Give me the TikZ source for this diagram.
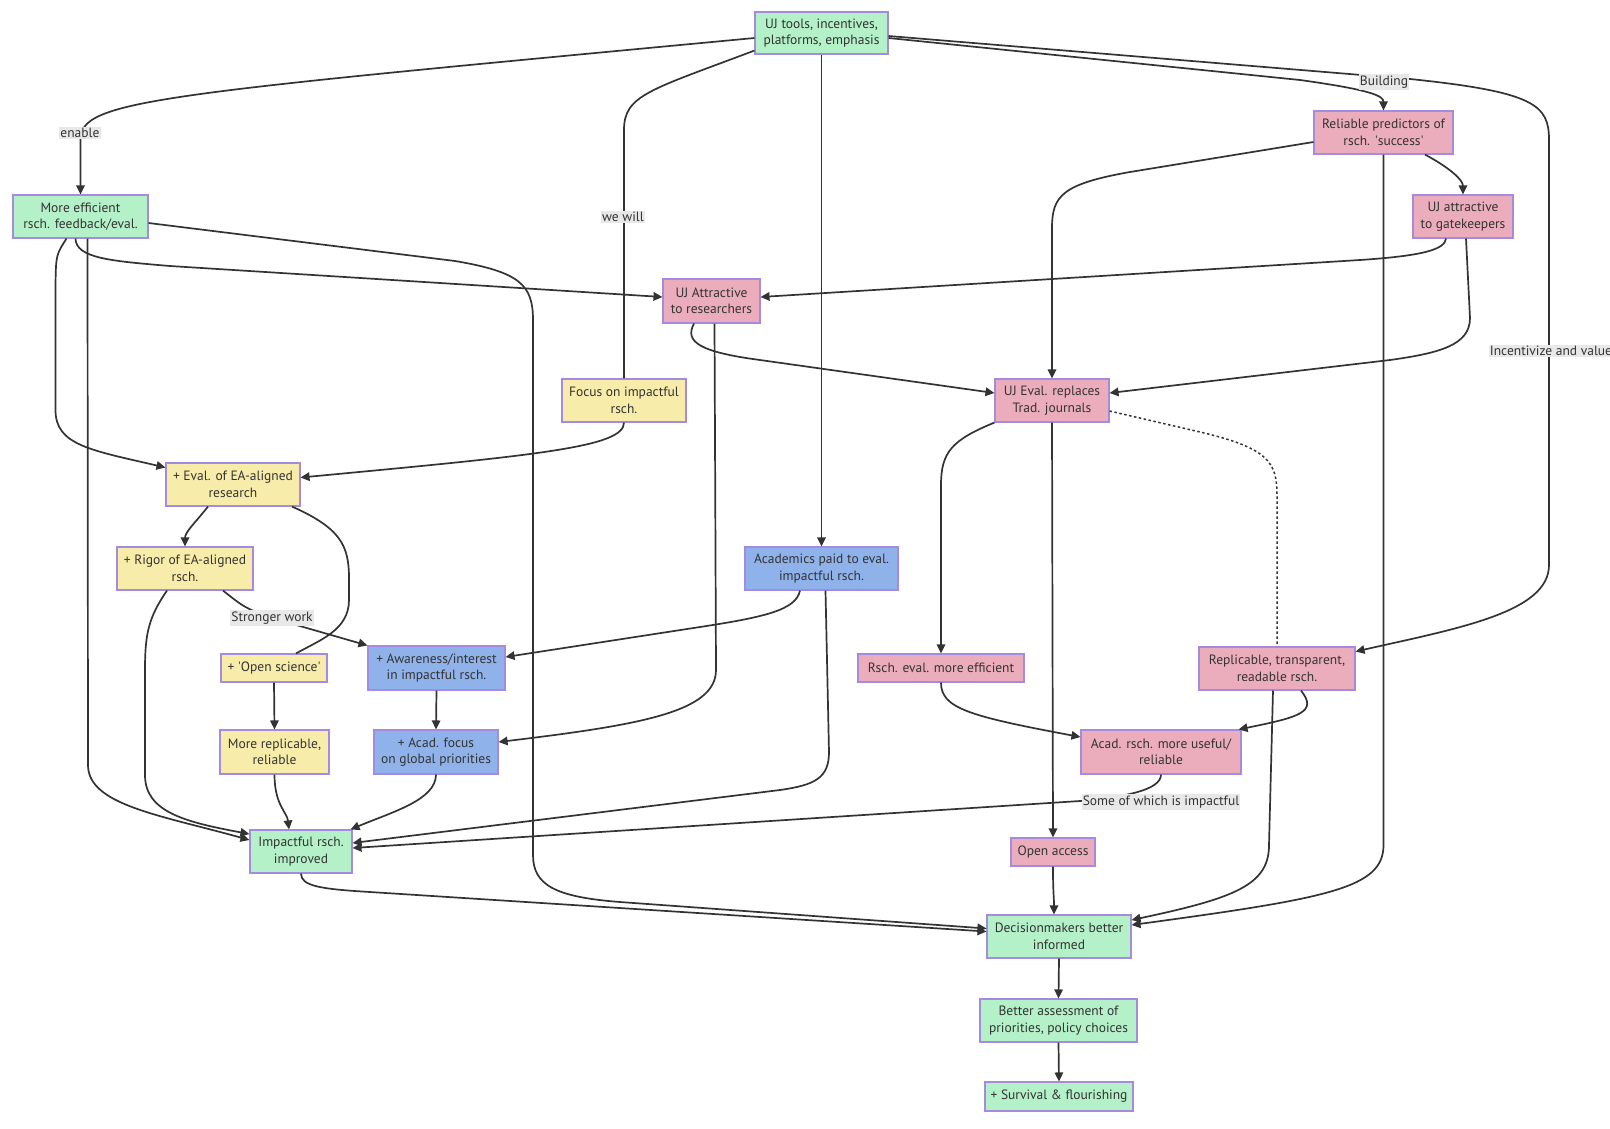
\documentclass[tikz,border=0pt]{standalone}
\usepackage{fontspec}
\setmainfont{PT Sans}
\usetikzlibrary{arrows.meta}
\definecolor{gfill}{HTML}{B4F0C8}
\definecolor{yfill}{HTML}{F8ECAA}
\definecolor{pfill}{HTML}{EBADBB}
\definecolor{bfill}{HTML}{8FB2EA}
\definecolor{bord}{HTML}{A58BE0}
\definecolor{ln}{HTML}{333333}
\definecolor{txt}{HTML}{333333}
\definecolor{lblbg}{HTML}{E8E8E8}
\tikzset{
  nd/.style={draw=bord, line width=1.1pt, align=center, inner sep=0pt, text=txt,
    font=\fontsize{13.5}{16.5}\selectfont},
  gn/.style={nd, fill=gfill},
  yn/.style={nd, fill=yfill},
  pn/.style={nd, fill=pfill},
  bn/.style={nd, fill=bfill},
  e/.style={draw=ln, line width=1.7pt, -{Triangle[length=9pt,width=8.5pt]}},
  en/.style={draw=ln, line width=1.7pt},
  ed/.style={draw=ln, line width=1.5pt, dash pattern=on 2.5pt off 2.5pt},
  lbl/.style={fill=lblbg, text=txt, inner xsep=1pt, inner ysep=1.5pt,
    font=\fontsize{13.5}{16.5}\selectfont}
}
\begin{document}
\begin{tikzpicture}[x=1pt,y=-1pt]
\path[use as bounding box, fill=white] (0,0) rectangle (1610,1128);

% nodes
\node[gn, minimum width=133pt, minimum height=42pt] (A) at (821.5,33) {UJ tools, incentives,\\platforms, emphasis};
\node[gn, minimum width=135pt, minimum height=43pt] (ME) at (80.5,216.5) {More efficient\\rsch. feedback/eval.};
\node[pn, minimum width=97pt, minimum height=44pt] (UA) at (711.5,301) {UJ Attractive\\to researchers};
\node[yn, minimum width=124pt, minimum height=43pt] (FO) at (624,400.5) {Focus on impactful\\rsch.};
\node[yn, minimum width=134pt, minimum height=43pt] (EV) at (233,484.5) {+ Eval. of EA-aligned\\research};
\node[pn, minimum width=139pt, minimum height=43pt] (RP) at (1383.5,132.5) {Reliable predictors of\\rsch. \textquotesingle success\textquotesingle};
\node[pn, minimum width=100pt, minimum height=43pt] (GK) at (1463,216.5) {UJ attractive\\to gatekeepers};
\node[pn, minimum width=114pt, minimum height=43pt] (UE) at (1052,400.5) {UJ Eval. replaces\\Trad. journals};
\node[bn, minimum width=153pt, minimum height=43pt] (AP) at (821.5,568.5) {Academics paid to eval.\\impactful rsch.};
\node[yn, minimum width=136pt, minimum height=43pt] (RG) at (185,568.5) {+ Rigor of EA-aligned\\rsch.};
\node[yn, minimum width=106pt, minimum height=28pt] (OS) at (274,668) {+ \textquotesingle Open science\textquotesingle};
\node[bn, minimum width=137pt, minimum height=44pt] (AW) at (436.5,668) {+ Awareness/interest\\in impactful rsch.};
\node[yn, minimum width=109pt, minimum height=44pt] (MR) at (274.5,752) {More replicable,\\reliable};
\node[bn, minimum width=124pt, minimum height=44pt] (AF) at (436,752) {+ Acad. focus\\on global priorities};
\node[gn, minimum width=102pt, minimum height=43pt] (IM) at (301,851.5) {Impactful rsch.\\improved};
\node[pn, minimum width=166pt, minimum height=28pt] (RE) at (941,668) {Rsch. eval. more efficient};
\node[pn, minimum width=156pt, minimum height=43pt] (RT) at (1277,668.5) {Replicable, transparent,\\readable rsch.};
\node[pn, minimum width=160pt, minimum height=44pt] (AR) at (1161,752) {Acad. rsch. more useful/\\reliable};
\node[pn, minimum width=84pt, minimum height=28pt] (OA) at (1053,852) {Open access};
\node[gn, minimum width=144pt, minimum height=43pt] (DM) at (1059,936.5) {Decisionmakers better\\informed};
\node[gn, minimum width=157pt, minimum height=43pt] (BA) at (1058.5,1020.5) {Better assessment of\\priorities, policy choices};
\node[gn, minimum width=148pt, minimum height=29pt] (SV) at (1059,1096.5) {+ Survival \& flourishing};

% edges
\draw[e] ([yshift=-5pt]A.west) .. controls (150,95) and (80.5,100) .. (80.5,140) -- (ME.north);
\draw[en] ([yshift=4pt]A.south west) .. controls (650,90) and (624,95) .. (624,130) -- (FO.north);
\draw[e] (FO.south) .. controls (624,447) and (540,455) .. ([yshift=7pt]EV.east);
\draw[e] ([xshift=-14pt]ME.south) .. controls (56,255) .. (55.5,285) -- (55.5,410) .. controls (55.5,445) and (90,450) .. ([yshift=17pt]EV.west);
\draw[e] ([xshift=7pt]ME.south) -- (88,765) .. controls (88,805) and (160,815) .. ([yshift=11.5pt]IM.west);
\draw[e] ([xshift=-5pt]ME.south) .. controls (76,258) and (110,261) .. (170,266) -- ([yshift=4pt]UA.west);
\draw[e] ([yshift=-6.5pt]ME.east) -- (455,261) .. controls (520,272) and (533,285) .. (533,320) -- (533,855) .. controls (533,885) and (555,897) .. (620,902) -- ([yshift=8pt]DM.west);
\draw[e] (IM.south) .. controls (301,886) and (320,889) .. (370,892) -- ([yshift=5pt]DM.west);
\draw[e] (A.south) -- (AP.north);
\draw[e] ([yshift=-5pt]A.east) -- (1300,80) .. controls (1372,90) and (1383.5,96) .. (RP.north);
\draw[e] ([yshift=-3pt]A.east) -- (1410,79) .. controls (1535,92) and (1549,105) .. (1549,140) -- (1549,565) .. controls (1549,612) and (1460,628) .. ([yshift=17pt]RT.east);
\draw[e] ([yshift=-9.5pt]RP.west) -- (1130,172) .. controls (1062,184) and (1052,196) .. (1052,228) -- (UE.north);
\draw[e] ([xshift=41.5pt]RP.south) .. controls (1450,168) and (1463,180) .. (GK.north);
\draw[e] (RP.south) -- (1383.5,845) .. controls (1383.5,888) and (1330,898) .. ([yshift=11.5pt]DM.east);
\draw[e] ([xshift=-17pt]GK.south) .. controls (1445,250) and (1420,256) .. (1360,260) -- ([yshift=4pt]UA.east);
\draw[e] ([xshift=3pt]GK.south) -- (1470,318) .. controls (1470,345) and (1440,353) .. (1390,360) -- ([yshift=7.5pt]UE.east);
\draw[e] ([xshift=-17.5pt]UA.south) .. controls (684,342) and (700,352) .. (760,360) -- ([yshift=7.5pt]UE.west);
\draw[e] ([xshift=3pt]UA.south) -- (716,670) .. controls (716,712) and (640,725) .. ([yshift=10pt]AF.east);
\draw[e] (UE.south west) .. controls (952,440) and (941,452) .. (941,485) -- (RE.north);
\draw[e] (UE.south) -- (OA.north);
\draw[ed] ([yshift=-10.5pt]UE.east) -- (1200,432) .. controls (1268,448) and (1277,462) .. (1277,495) -- (RT.north);
\draw[e] ([xshift=-21.5pt]AP.south) .. controls (796,610) and (765,617) .. (700,627) -- ([yshift=11pt]AW.east);
\draw[e] ([xshift=4pt]AP.south) -- (829,752) .. controls (829,778) and (815,785) .. (780,790) -- ([yshift=8.5pt]IM.east);
\draw[e] (AR.south) .. controls (1161,790) and (1125,797) .. (1080,801) -- ([yshift=3.5pt]IM.east);
\draw[e] (RE.south) .. controls (941,708) and (968,716) .. ([yshift=15pt]AR.west);
\draw[e] ([xshift=24pt]RT.south) .. controls (1318,712) and (1300,717) .. ([xshift=-3pt]AR.north east);
\draw[e] ([xshift=-4pt]RT.south) -- (1269,845) .. controls (1269,885) and (1235,898) .. ([yshift=16.5pt]DM.east);
\draw[e] (OA.south) .. controls (1053,895) and (1054,895) .. ([xshift=-5pt]DM.north);
\draw[e] (DM.south) -- (BA.north);
\draw[e] (BA.south) -- (SV.north);
\draw[e] ([xshift=-25pt]EV.south) .. controls (195,523) and (185,532) .. (RG.north);
\draw[en] ([xshift=59pt]EV.south) .. controls (340,528) and (349,545) .. (349,578) -- (349,600) .. controls (349,630) and (320,640) .. ([xshift=22pt]OS.north);
\draw[e] (OS.south) -- (MR.north);
\draw[e] ([xshift=38pt]RG.south) .. controls (245,608) .. (272,618) -- (AW.north west);
\draw[e] ([xshift=-18pt]RG.south) .. controls (148,618) and (145,635) .. (145,670) -- (145,775) .. controls (145,812) and (185,822) .. ([yshift=17.5pt]IM.west);
\draw[e] (MR.south) .. controls (274.5,805) and (287,812) .. ([xshift=-12pt]IM.north);
\draw[e] (AW.south) -- (AF.north);
\draw[e] (AF.south) .. controls (436,800) and (392,812) .. ([xshift=-2pt]IM.north east);

% edge labels
\node[lbl] (L1) at (80,133) {enable};
\node[lbl] (L2) at (623,217) {we will};
\node[lbl] (L3) at (1384,82) {Building};
\node[lbl] (L4) at (1551,351) {Incentivize and value};
\node[lbl] (L5) at (272,618) {Stronger work};
\node[lbl] (L6) at (1161,802) {Some of which is impactful};
\end{tikzpicture}
\end{document}
